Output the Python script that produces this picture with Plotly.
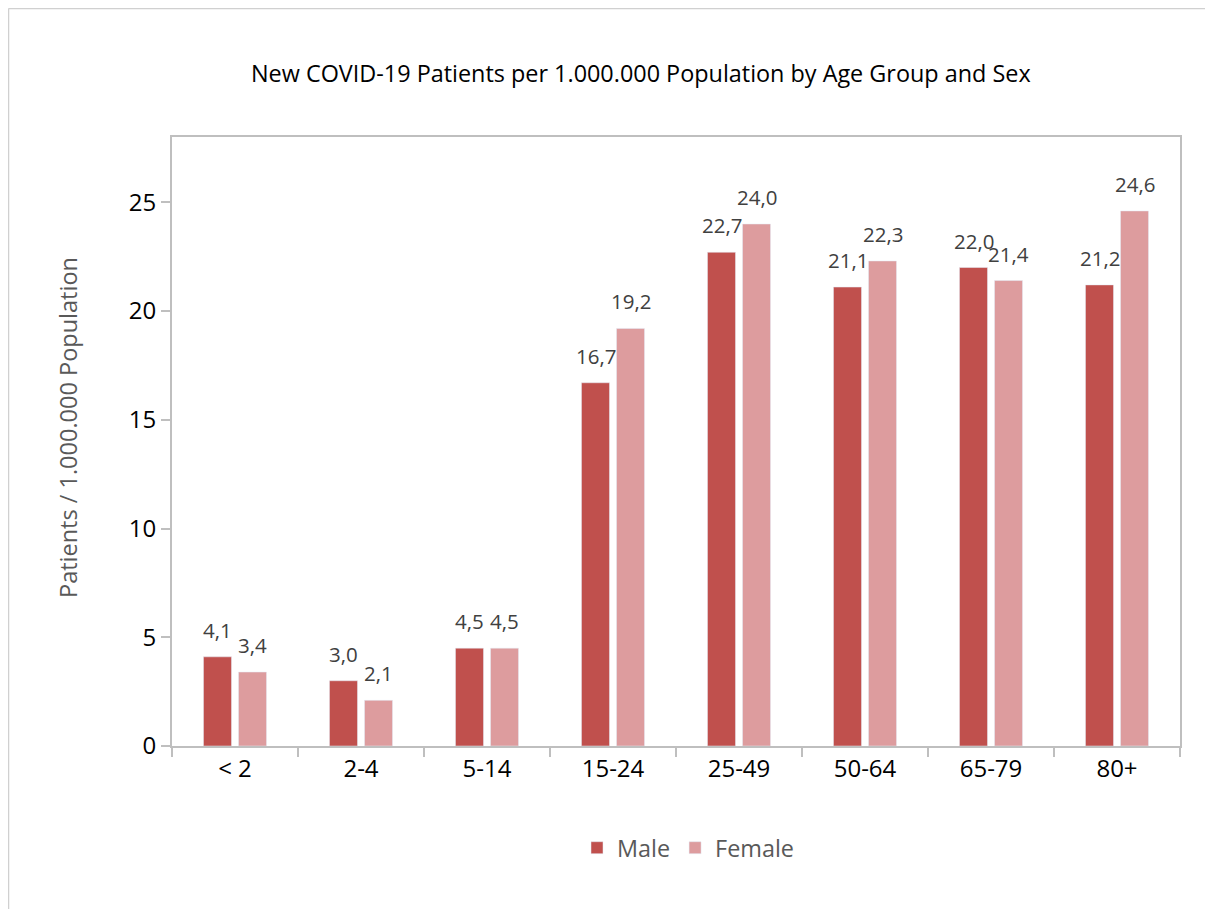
import plotly.graph_objects as go

categories = ["< 2", "2-4", "5-14", "15-24", "25-49", "50-64", "65-79", "80+"]
male = [4.1, 3.0, 4.5, 16.7, 22.7, 21.1, 22.0, 21.2]
female = [3.4, 2.1, 4.5, 19.2, 24.0, 22.3, 21.4, 24.6]
y_ticks = [0, 5, 10, 15, 20, 25]

FONT = "Open Sans"
OFF = 8  # page body margin
W, H = 1213 - OFF, 909 - OFF
L, R, T, B = 172 - OFF, 33, 137 - OFF, 163
pw, ph = W - L - R, H - T - B

def px_x(p):
    return (p - OFF - L) / pw

def px_y(p):
    return (H - B - (p - OFF)) / ph

MALE_C, FEMALE_C = "#C0504D", "#DD9C9E"

fig = go.Figure()
fig.add_trace(go.Bar(name="Male", x=categories, y=male, marker_color=MALE_C))
fig.add_trace(go.Bar(name="Female", x=categories, y=female, marker_color=FEMALE_C))

label_font = dict(family=FONT, size=20.5, color="#404040")
annotations = []
for series, shift in ((male, -17.5), (female, 17.5)):
    for c, v in zip(categories, series):
        annotations.append(dict(text=f"{v:.1f}".replace(".", ","), x=c, y=v, xref="x", yref="y",
                                showarrow=False, xanchor="center", yanchor="bottom",
                                xshift=shift, yshift=11, font=label_font))

annotations += [
    dict(text="New COVID-19 Patients per 1.000.000 Population by Age Group and Sex",
         x=px_x(641), y=px_y(73), xref="paper", yref="paper", showarrow=False,
         xanchor="center", yanchor="middle", font=dict(family=FONT, size=23.4, color="#000000")),
    dict(text="Patients / 1.000.000 Population", x=px_x(68), y=px_y(428), xref="paper", yref="paper",
         showarrow=False, textangle=-90, xanchor="center", yanchor="middle",
         font=dict(family=FONT, size=23.5, color="#595959")),
]

fig.update_layout(
    width=W, height=H,
    margin=dict(l=L, r=R, t=T, b=B, pad=0),
    paper_bgcolor="white", plot_bgcolor="white",
    barmode="group", bargap=0.444, bargroupgap=0.2,
    font=dict(family=FONT, color="#000000"),
    showlegend=True,
    legend=dict(orientation="h", x=px_x(688), xanchor="center", y=px_y(848), yanchor="middle",
                font=dict(family=FONT, size=23.4, color="#595959")),
    annotations=annotations,
    shapes=[
        dict(type="line", xref="paper", yref="paper", x0=px_x(8.5), x1=px_x(8.5), y0=px_y(8.5), y1=px_y(H + 40),
             line=dict(color="#D0D0D0", width=1.5)),
        dict(type="line", xref="paper", yref="paper", x0=px_x(8.5), x1=px_x(W + 40), y0=px_y(8.5), y1=px_y(8.5),
             line=dict(color="#D0D0D0", width=1.5)),
    ],
)
fig.update_xaxes(showline=True, linecolor="#BFBFBF", linewidth=2, mirror=True,
                 ticks="outside", tickson="boundaries", ticklen=9, tickcolor="#BFBFBF", tickwidth=2,
                 tickfont=dict(family=FONT, size=24, color="#000000"), showgrid=False)
fig.update_yaxes(range=[0, 28], tickvals=y_ticks, showline=True, linecolor="#BFBFBF", linewidth=2, mirror=True,
                 ticks="outside", ticklen=9, tickcolor="#BFBFBF", tickwidth=2,
                 tickfont=dict(family=FONT, size=24, color="#000000"), showgrid=False, zeroline=False)

fig.write_html("out.html")
